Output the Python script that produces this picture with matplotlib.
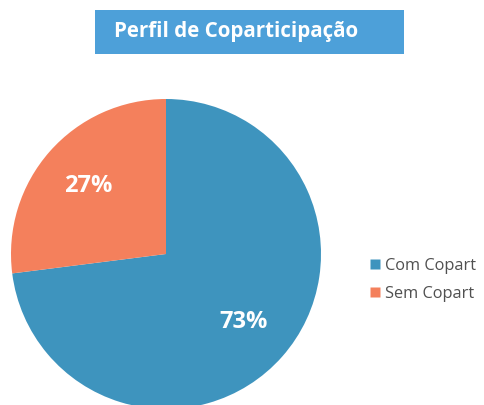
import matplotlib
matplotlib.use("Agg")
import matplotlib.pyplot as plt
from matplotlib.patches import Rectangle
from matplotlib.lines import Line2D

title = "Perfil de Coparticipação"
categories = ["Com Copart", "Sem Copart"]
values = [73, 27]
colors = ["#3e94be", "#f4805c"]

fig = plt.figure(figsize=(4.84, 4.05), dpi=100)
fig.patch.set_facecolor("white")

# Title banner
fig.patches.append(Rectangle((95/484, 1-54/405), 309/484, 44/405,
                             transform=fig.transFigure, facecolor="#4da0d9",
                             edgecolor="none", zorder=0))
fig.text(236/484, 1-32/405, title, ha="center", va="center", color="white",
         fontsize=14.8, fontweight="bold", family="Open Sans")

cx, cy, r = 166, 254, 155
ax = fig.add_axes([(cx-r)/484, (405-cy-r)/405, 2*r/484, 2*r/405])
wedges, texts, autotexts = ax.pie(values, colors=colors, startangle=90, counterclock=False,
                                  autopct=lambda p: f"{p:.0f}%", pctdistance=0.665,
                                  radius=1, wedgeprops=dict(linewidth=0))
for t in autotexts:
    t.set_color("white")
    t.set_fontsize(17)
    t.set_fontweight("bold")
    t.set_family("Open Sans")
ax.set_xlim(-1, 1)
ax.set_ylim(-1, 1)
ax.set_aspect("equal")
ax.axis("off")

handles = [Line2D([0], [0], marker="s", linestyle="none", markersize=6.5,
                  markerfacecolor=c, markeredgecolor="none") for c in colors]
fig.legend(handles, categories, loc="center left", bbox_to_anchor=(355/484, 1-280/405),
           frameon=False, handlelength=0.6, handletextpad=0.35,
           labelspacing=0.75, labelcolor="#505050", prop={"family": "Open Sans", "size": 11.8})

fig.savefig("out.png", dpi=100)
